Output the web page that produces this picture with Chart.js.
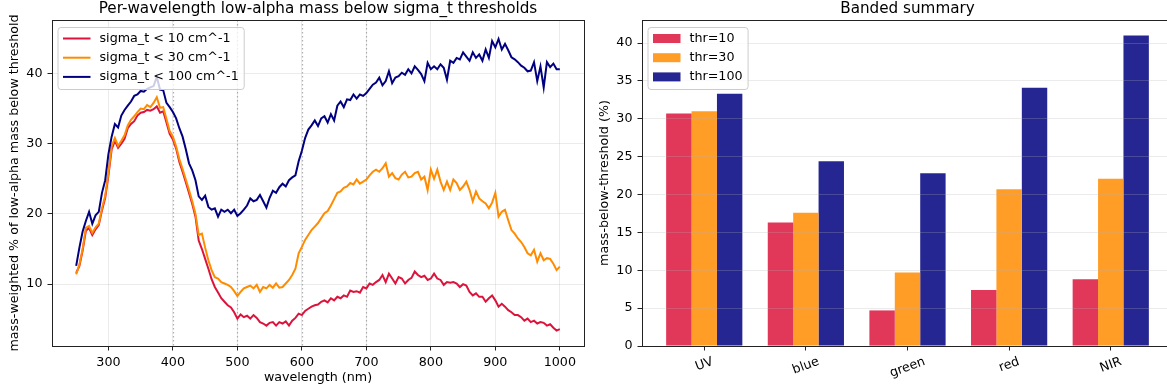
<!DOCTYPE html>
<html>
<head>
<meta charset="utf-8">
<script src="https://cdn.jsdelivr.net/npm/chart.js@4.4.1/dist/chart.umd.min.js"></script>
<style>
  html, body { margin: 0; padding: 0; background: #fff; overflow: hidden; }
  body { width: 1167px; height: 392px; position: relative; }
  .panel { position: absolute; top: 0; height: 392px; }
  #left { left: 0; width: 590px; }
  #right { left: 590px; width: 583px; }
</style>
</head>
<body>
<div class="panel" id="left"><canvas id="lineChart"></canvas></div>
<div class="panel" id="right"><canvas id="barChart"></canvas></div>
<script>
// wavelength grid (nm), 5 nm sampling
const wavelengths = [
  250, 255, 260, 265, 270, 275, 280, 285, 290, 295,
  300, 305, 310, 315, 320, 325, 330, 335, 340, 345,
  350, 355, 360, 365, 370, 375, 380, 385, 390, 395,
  400, 405, 410, 415, 420, 425, 430, 435, 440, 445,
  450, 455, 460, 465, 470, 475, 480, 485, 490, 495,
  500, 505, 510, 515, 520, 525, 530, 535, 540, 545,
  550, 555, 560, 565, 570, 575, 580, 585, 590, 595,
  600, 605, 610, 615, 620, 625, 630, 635, 640, 645,
  650, 655, 660, 665, 670, 675, 680, 685, 690, 695,
  700, 705, 710, 715, 720, 725, 730, 735, 740, 745,
  750, 755, 760, 765, 770, 775, 780, 785, 790, 795,
  800, 805, 810, 815, 820, 825, 830, 835, 840, 845,
  850, 855, 860, 865, 870, 875, 880, 885, 890, 895,
  900, 905, 910, 915, 920, 925, 930, 935, 940, 945,
  950, 955, 960, 965, 970, 975, 980, 985, 990, 995,
  1000
];

const sigma10 = [
  11.6, 12.6, 14.8, 17.6, 18.0, 17.0, 17.8, 18.4, 20.5, 22.3,
  25.5, 29.2, 30.4, 29.4, 30.0, 30.7, 32.2, 32.8, 33.2, 34.0,
  34.4, 34.5, 34.8, 34.7, 34.9, 35.3, 34.4, 34.6, 33.0, 31.4,
  30.6, 29.3, 27.4, 26.0, 24.5, 23.0, 21.4, 19.6, 16.2, 15.0,
  13.6, 12.2, 10.7, 9.6, 8.8, 8.0, 7.5, 7.0, 6.7, 6.0,
  5.1, 5.7, 5.3, 5.5, 5.1, 5.6, 5.2, 4.6, 4.4, 4.1,
  4.5, 4.6, 4.1, 4.6, 4.4, 4.7, 4.1, 4.8, 5.2, 5.8,
  5.6, 6.2, 6.5, 6.8, 7.0, 7.1, 7.5, 7.7, 7.4, 8.0,
  7.7, 8.2, 8.0, 8.4, 8.2, 9.1, 8.9, 9.0, 8.8, 9.6,
  9.4, 10.1, 9.9, 10.3, 10.6, 11.3, 10.3, 11.5, 10.8, 10.1,
  11.0, 10.8, 10.1, 10.6, 10.9, 11.8, 11.3, 11.0, 11.2, 10.6,
  10.8, 11.5, 10.8, 10.6, 9.9, 10.3, 10.2, 10.3, 10.1, 9.6,
  10.0, 9.8, 8.9, 8.4, 8.7, 8.2, 8.2, 7.5, 8.0, 8.4,
  7.7, 6.8, 7.2, 6.8, 6.3, 6.0, 5.6, 5.6, 5.3, 4.8,
  5.1, 4.6, 4.8, 4.4, 4.6, 4.5, 4.1, 4.3, 3.8, 3.4,
  3.6
];

const sigma30 = [
  11.4, 12.8, 15.0, 18.0, 18.3, 17.3, 18.1, 18.6, 20.8, 22.6,
  25.8, 29.6, 30.8, 29.7, 30.4, 31.2, 32.6, 33.4, 33.9, 34.5,
  35.0, 34.9, 35.5, 35.2, 35.8, 36.6, 35.1, 35.2, 33.5, 31.8,
  31.0, 29.6, 27.8, 26.4, 24.9, 23.4, 21.8, 20.0, 17.0, 17.2,
  15.2, 13.4, 12.0, 11.0, 10.8, 10.3, 10.1, 9.9, 9.6, 9.0,
  8.3, 8.9, 9.4, 9.6, 9.8, 9.4, 9.9, 8.9, 9.6, 9.4,
  9.9, 9.5, 10.1, 9.5, 9.6, 10.1, 10.6, 11.3, 12.2, 14.4,
  15.3, 16.3, 17.0, 17.7, 18.2, 18.7, 19.4, 20.1, 20.4, 21.2,
  22.1, 23.0, 23.2, 23.7, 23.9, 24.4, 24.2, 24.9, 24.3, 24.6,
  24.9, 25.5, 26.0, 26.3, 26.0, 26.5, 27.2, 25.3, 25.8, 25.1,
  24.9, 25.6, 26.0, 25.2, 25.3, 25.8, 26.0, 24.9, 25.3, 23.4,
  26.3, 25.0, 26.3, 24.6, 23.4, 24.6, 23.4, 24.9, 24.4, 23.4,
  23.9, 24.6, 23.4, 21.8, 23.2, 22.2, 21.8, 21.5, 20.8, 21.6,
  23.0, 19.6, 20.3, 20.6, 19.1, 17.7, 17.2, 16.5, 16.0, 15.3,
  14.4, 14.1, 14.9, 13.2, 14.4, 13.4, 13.7, 13.6, 12.9, 12.0,
  12.5
];

const sigma100 = [
  12.6, 15.2, 17.5, 19.0, 20.3, 18.6, 19.8, 20.3, 23.0, 24.8,
  28.5, 31.0, 32.8, 32.3, 34.0, 34.8, 35.4, 36.0, 36.8, 37.0,
  37.5, 37.4, 37.8, 38.0, 38.2, 39.5, 37.7, 37.6, 35.8, 35.2,
  34.5, 33.6, 32.2, 31.0, 29.2, 27.2, 26.2, 24.8, 22.5, 22.0,
  22.6, 21.0, 20.6, 20.8, 19.6, 20.6, 20.3, 20.6, 20.1, 20.6,
  19.7, 20.1, 20.6, 21.2, 22.2, 21.8, 22.0, 22.7, 21.8, 20.9,
  22.3, 23.3, 23.0, 23.8, 24.3, 23.9, 24.8, 25.2, 25.5, 27.5,
  29.0, 30.8, 32.0, 32.6, 33.3, 32.5, 33.6, 33.9, 33.0, 34.2,
  33.3, 35.4, 36.0, 35.2, 36.3, 36.2, 37.0, 36.4, 37.0, 36.8,
  37.2, 37.8, 38.4, 38.7, 39.4, 38.3, 38.9, 40.3, 38.6, 39.4,
  39.6, 40.1, 39.8, 40.6, 40.0, 41.0, 40.5, 39.9, 38.9, 41.5,
  40.6, 41.0, 40.6, 41.3, 40.8, 39.1, 41.8, 41.5, 42.2, 42.0,
  43.0, 42.4, 41.8, 43.0, 42.2, 42.7, 41.8, 43.4, 42.2, 44.6,
  43.7, 44.9, 43.4, 44.2, 43.3, 42.3, 42.0, 41.6, 41.1, 40.8,
  40.3, 40.4, 41.6, 38.9, 41.0, 38.0, 41.6, 40.9, 41.4, 40.6,
  40.6
];

const bandEdges = [400, 500, 600, 700];
const xTicksNm = [300, 400, 500, 600, 700, 800, 900, 1000];
const yTicksLine = [10, 20, 30, 40];

const bands = ["UV", "blue", "green", "red", "NIR"];
const thr10 = [30.7, 16.3, 4.7, 7.4, 8.8];
const thr30 = [31.0, 17.6, 9.7, 20.7, 22.1];
const thr100 = [33.3, 24.4, 22.8, 34.1, 41.0];
const yTicksBar = [0, 5, 10, 15, 20, 25, 30, 35, 40];

const FONT = "'DejaVu Sans', sans-serif";
const gridColor = "rgba(176,176,176,0.32)";

Chart.defaults.font.family = FONT;
Chart.defaults.font.size = 12.7;
Chart.defaults.color = "#000";
Chart.defaults.animation = false;

// axes box + title + legend, drawn like matplotlib
const decor = (title, legendKind) => ({
  id: "decor",
  afterDraw(chart) {
    const { ctx, chartArea: a } = chart;
    ctx.save();
    ctx.strokeStyle = "#222";
    ctx.lineWidth = 1;
    ctx.strokeRect(Math.round(a.left) + 0.5, Math.round(a.top) + 0.5,
      Math.round(a.right - a.left), Math.round(a.bottom - a.top));

    ctx.fillStyle = "#000";
    ctx.font = `15.2px ${FONT}`;
    ctx.textAlign = "center";
    ctx.textBaseline = "alphabetic";
    ctx.fillText(title, (a.left + a.right) / 2, a.top - 7);

    const items = chart.data.datasets;
    ctx.font = `12.7px ${FONT}`;
    const textW = Math.max(...items.map((d) => ctx.measureText(d.label).width));
    const x0 = a.left + 5.5, y0 = a.top + 7;
    const w = 42 + textW + 5, h = 62;
    ctx.beginPath();
    ctx.roundRect(x0 + 0.5, y0 + 0.5, w, h, 3);
    ctx.fillStyle = "rgba(255,255,255,0.8)";
    ctx.fill();
    ctx.strokeStyle = "#cccccc";
    ctx.stroke();
    items.forEach((d, i) => {
      const y = y0 + 11.5 + i * 19.2;
      if (legendKind === "line") {
        ctx.strokeStyle = d.borderColor;
        ctx.lineWidth = 2;
        ctx.beginPath();
        ctx.moveTo(x0 + 5.5, y);
        ctx.lineTo(x0 + 33, y);
        ctx.stroke();
      } else {
        ctx.fillStyle = d.backgroundColor;
        ctx.fillRect(x0 + 5.5, y - 4.5, 27.5, 9);
      }
      ctx.fillStyle = "#000";
      ctx.textAlign = "left";
      ctx.textBaseline = "middle";
      ctx.fillText(d.label, x0 + 42, y);
    });
    ctx.restore();
  },
});

const bandLines = {
  id: "bandLines",
  beforeDatasetsDraw(chart) {
    const { ctx, chartArea: a, scales } = chart;
    ctx.save();
    ctx.strokeStyle = "rgba(150,150,150,0.75)";
    ctx.lineWidth = 1.2;
    ctx.setLineDash([1.5, 2.5]);
    bandEdges.forEach((v) => {
      const x = Math.round(scales.x.getPixelForValue(v)) + 0.5;
      ctx.beginPath();
      ctx.moveTo(x, a.top);
      ctx.lineTo(x, a.bottom);
      ctx.stroke();
    });
    ctx.restore();
  },
};

const rotatedLabels = {
  id: "rotatedLabels",
  afterDraw(chart) {
    const { ctx, chartArea: a, scales } = chart;
    const rot = (20 * Math.PI) / 180;
    ctx.save();
    ctx.font = `12.7px ${FONT}`;
    ctx.fillStyle = "#000";
    bands.forEach((name, i) => {
      const x = scales.x.getPixelForValue(i);
      const w = ctx.measureText(name).width;
      const H = w * Math.sin(rot) + 14.5 * Math.cos(rot);
      const cy = a.bottom + 4.5 + 4 + H / 2;
      ctx.save();
      ctx.translate(x, cy);
      ctx.rotate(-rot);
      ctx.textAlign = "center";
      ctx.textBaseline = "middle";
      ctx.fillText(name, 0, 0);
      ctx.restore();
    });
    ctx.restore();
  },
};

const toPoints = (ys) => ys.map((y, i) => ({ x: wavelengths[i], y }));

new Chart(document.getElementById("lineChart"), {
  type: "line",
  data: {
    datasets: [
      { label: "sigma_t < 10 cm^-1", data: toPoints(sigma10), borderColor: "#dc143c", order: 3 },
      { label: "sigma_t < 30 cm^-1", data: toPoints(sigma30), borderColor: "#ff8c00", order: 2 },
      { label: "sigma_t < 100 cm^-1", data: toPoints(sigma100), borderColor: "#000080", order: 1 },
    ],
  },
  options: {
    responsive: true,
    maintainAspectRatio: false,
    devicePixelRatio: 1,
    layout: { padding: { top: 20, right: 6, left: 0, bottom: 0 } },
    elements: {
      line: { borderWidth: 2, tension: 0 },
      point: { radius: 0 },
    },
    plugins: { legend: { display: false }, tooltip: { enabled: false } },
    scales: {
      x: {
        type: "linear",
        min: 212.5,
        max: 1037.5,
        afterBuildTicks: (s) => { s.ticks = xTicksNm.map((v) => ({ value: v })); },
        afterFit: (s) => { s.height = 46; },
        ticks: { padding: 5, maxRotation: 0, callback: (v) => String(v) },
        grid: { color: gridColor, lineWidth: 0.8, tickColor: "#222", tickLength: 4.5, tickWidth: 1 },
        border: { display: false },
        title: { display: true, text: "wavelength (nm)", padding: { top: 0, bottom: 7 } },
      },
      y: {
        min: 1.2,
        max: 47.6,
        afterBuildTicks: (s) => { s.ticks = yTicksLine.map((v) => ({ value: v })); },
        afterFit: (s) => { s.width = 52; },
        ticks: { padding: 5, callback: (v) => String(v) },
        grid: { color: gridColor, lineWidth: 0.8, tickColor: "#222", tickLength: 4.5, tickWidth: 1 },
        border: { display: false },
        title: {
          display: true,
          text: "mass-weighted % of low-alpha mass below threshold",
          padding: { top: 6.8, bottom: 0 },
        },
      },
    },
  },
  plugins: [bandLines, decor("Per-wavelength low-alpha mass below sigma_t thresholds", "line")],
});

const toBars = (ys) => ys.map((y, i) => ({ x: i, y }));

new Chart(document.getElementById("barChart"), {
  type: "bar",
  data: {
    datasets: [
      { label: "thr=10", data: toBars(thr10), backgroundColor: "rgba(220,20,60,0.85)" },
      { label: "thr=30", data: toBars(thr30), backgroundColor: "rgba(255,140,0,0.85)" },
      { label: "thr=100", data: toBars(thr100), backgroundColor: "rgba(0,0,128,0.85)" },
    ],
  },
  options: {
    responsive: true,
    maintainAspectRatio: false,
    devicePixelRatio: 1,
    layout: { padding: { top: 20, right: 0, left: 0, bottom: 0 } },
    datasets: { bar: { categoryPercentage: 0.75, barPercentage: 1.0, borderWidth: 0 } },
    plugins: { legend: { display: false }, tooltip: { enabled: false } },
    scales: {
      x: {
        type: "linear",
        offset: false,
        min: -0.6125,
        max: 4.6125,
        afterBuildTicks: (s) => { s.ticks = bands.map((_, i) => ({ value: i })); },
        afterFit: (s) => { s.height = 46; },
        ticks: { display: false },
        grid: { drawOnChartArea: false, offset: false, tickColor: "#222", tickLength: 4.5, tickWidth: 1 },
        border: { display: false },
      },
      y: {
        min: 0,
        max: 43.05,
        afterBuildTicks: (s) => { s.ticks = yTicksBar.map((v) => ({ value: v })); },
        afterFit: (s) => { s.width = 52; },
        ticks: { padding: 5, callback: (v) => String(v) },
        grid: { color: gridColor, lineWidth: 0.8, tickColor: "#222", tickLength: 4.5, tickWidth: 1, z: 1 },
        border: { display: false },
        title: { display: true, text: "mass-below-threshold (%)", padding: { top: 6.8, bottom: 0 } },
      },
    },
  },
  plugins: [rotatedLabels, decor("Banded summary", "bar")],
});
</script>
</body>
</html>
